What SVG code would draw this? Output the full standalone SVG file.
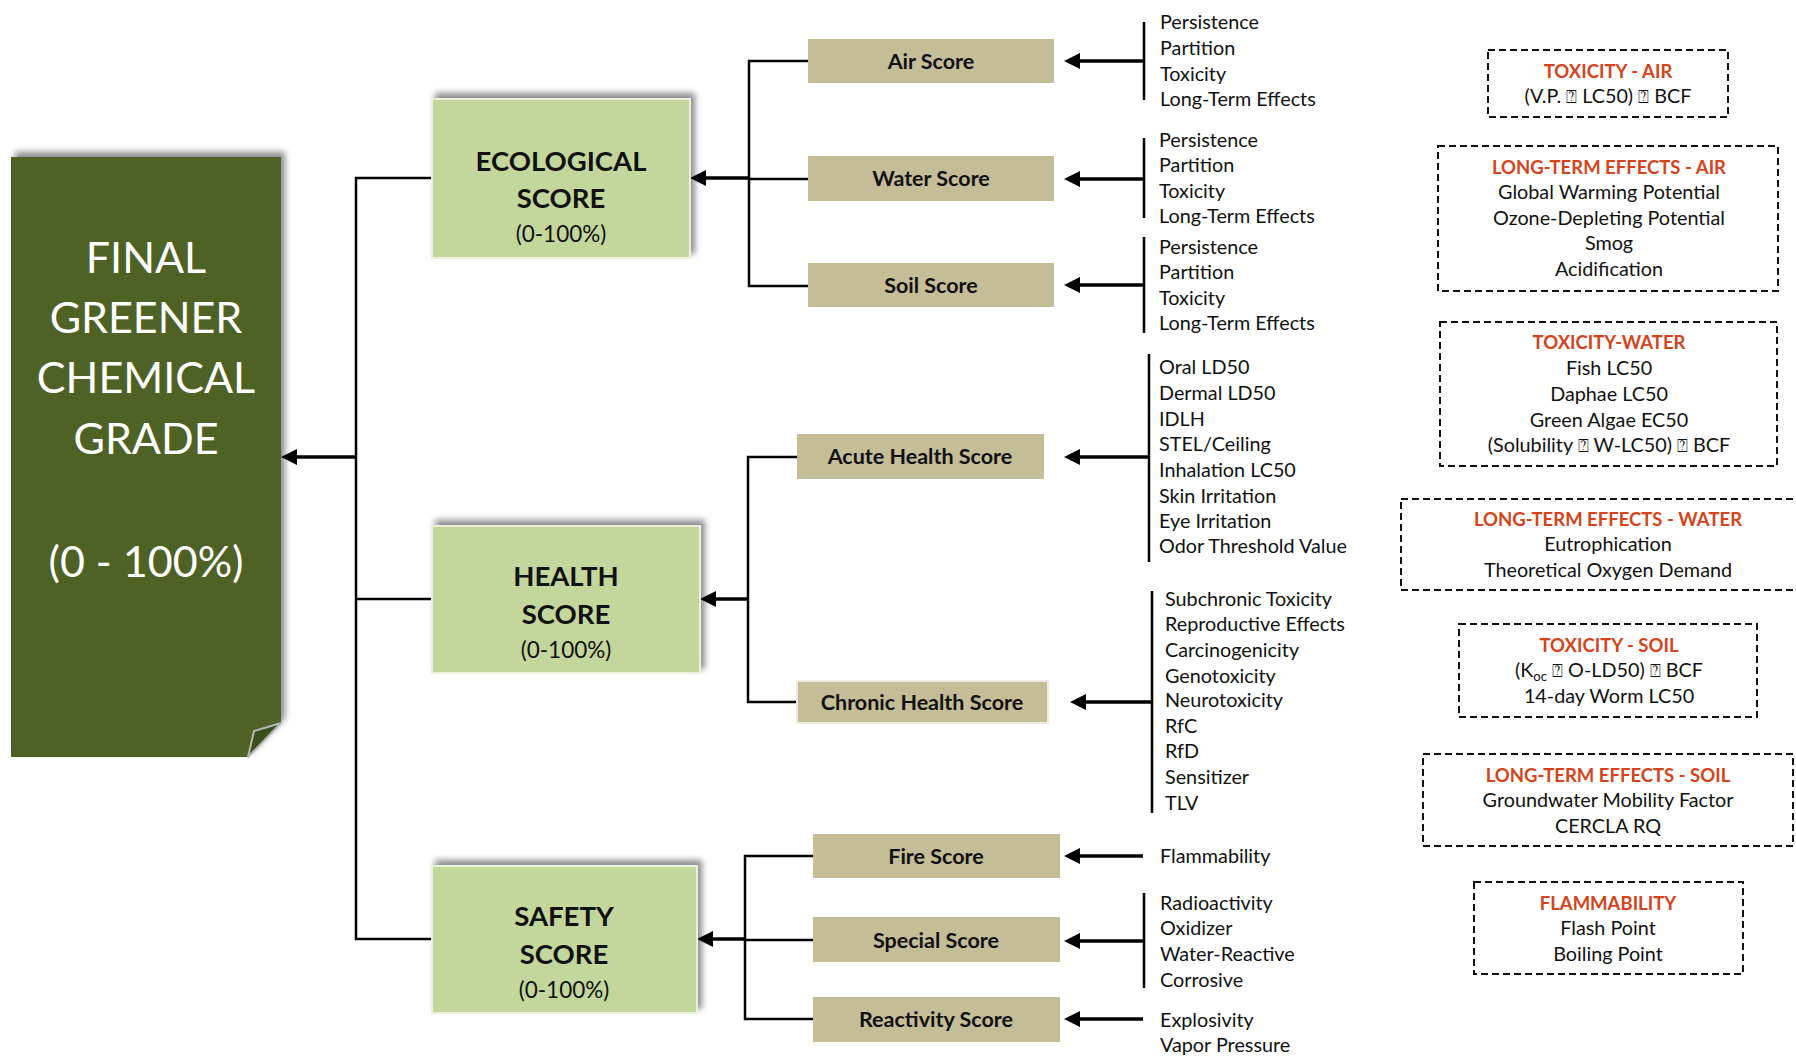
<svg xmlns="http://www.w3.org/2000/svg" width="1796" height="1056" viewBox="0 0 1796 1056">
<defs>
<style>
text{font-family:Lato,"Open Sans","Liberation Sans",sans-serif;fill:#111}
.fin{font-size:43px;fill:#fff;text-anchor:middle}
.mt{font-size:27.5px;font-weight:bold;text-anchor:middle}
.mp{font-size:22.5px;text-anchor:middle}
.sl{font-size:21.5px;font-weight:bold;text-anchor:middle}
.at{font-size:19.8px}
.bt{font-size:18.5px;font-weight:bold;fill:#D5431A;text-anchor:middle}
.bl{font-size:19.8px;text-anchor:middle}
.q{font-family:"DejaVu Sans",sans-serif;font-size:18px}
.main{fill:#C3D69B;stroke:#EEF0DE;stroke-width:2}
.sub{fill:#C4BD97}
.dash{fill:none;stroke:#111;stroke-width:2;stroke-dasharray:7 4}
.ln{fill:none;stroke:#000;stroke-width:2.5}
.ar{fill:none;stroke:#000;stroke-width:3.5;marker-end:url(#ah)}
</style>
<marker id="ah" viewBox="0 0 16 16" refX="6" refY="8" markerWidth="16" markerHeight="16" markerUnits="userSpaceOnUse" orient="auto">
<path d="M0,0 L16,8 L0,16 z" fill="#000"/>
</marker>
<filter id="sh" x="-10%" y="-15%" width="125%" height="125%">
<feDropShadow dx="4" dy="-5" stdDeviation="3" flood-color="#000" flood-opacity="0.45"/>
</filter>
</defs>

<g id="connectors">
<path class="ln" d="M432,178 H356 V939 H432 M356,599 H432"/>
<path class="ar" d="M356,457 H291"/>
<path class="ln" d="M808,61 H749 V286 H808 M749,179 H808"/>
<path class="ar" d="M749,178 H700"/>
<path class="ln" d="M797,457 H748 V702 H797"/>
<path class="ar" d="M748,599 H710"/>
<path class="ln" d="M813,856 H745 V1019 H813 M745,940 H813"/>
<path class="ar" d="M745,939 H707"/>
<path class="ar" d="M1143,61 H1074"/>
<path class="ar" d="M1143,179 H1074"/>
<path class="ar" d="M1143,285 H1074"/>
<path class="ar" d="M1148,457 H1074"/>
<path class="ar" d="M1151,702 H1080"/>
<path class="ar" d="M1143,856 H1074"/>
<path class="ar" d="M1143,941 H1074"/>
<path class="ar" d="M1143,1019 H1074"/>
<path class="ln" d="M1144,22 V100 M1144,138 V218 M1144,237 V333 M1149,354 V562 M1152,591 V813 M1144,893 V988"/>
</g>

<g id="final">
<path d="M11,157 H281 V723 L248,757 H11 Z" fill="#4F6228" filter="url(#sh)"/>
<path d="M281,723 L254,731 L248,757 Z" fill="#3E4F1E" stroke="#B5B5B5" stroke-width="2" stroke-linejoin="round"/>
<text class="fin" x="146" y="273">FINAL</text>
<text class="fin" x="146" y="333">GREENER</text>
<text class="fin" x="146" y="393">CHEMICAL</text>
<text class="fin" x="146" y="454">GRADE</text>
<text class="fin" x="146" y="577">(0 - 100%)</text>
</g>

<g id="ecological">
<rect class="main" x="432" y="99" width="258" height="159" filter="url(#sh)"/>
<text class="mt" x="561" y="171">ECOLOGICAL</text>
<text class="mt" x="561" y="208">SCORE</text>
<text class="mp" x="561" y="242">(0-100%)</text>
</g>

<g id="health">
<rect class="main" x="432" y="526" width="268" height="147" filter="url(#sh)"/>
<text class="mt" x="566" y="586">HEALTH</text>
<text class="mt" x="566" y="624">SCORE</text>
<text class="mp" x="566" y="658">(0-100%)</text>
</g>

<g id="safety">
<rect class="main" x="432" y="866" width="265" height="147" filter="url(#sh)"/>
<text class="mt" x="564" y="926">SAFETY</text>
<text class="mt" x="564" y="964">SCORE</text>
<text class="mp" x="564" y="998">(0-100%)</text>
</g>

<g id="air">
<rect class="sub" x="808" y="39" width="246" height="44"/>
<text class="sl" x="931" y="69">Air Score</text>
</g>
<g id="water">
<rect class="sub" x="808" y="156" width="246" height="45"/>
<text class="sl" x="931" y="186">Water Score</text>
</g>
<g id="soil">
<rect class="sub" x="808" y="263" width="246" height="44"/>
<text class="sl" x="931" y="293">Soil Score</text>
</g>
<g id="acute">
<rect class="sub" x="797" y="434" width="247" height="45"/>
<text class="sl" x="920" y="464">Acute Health Score</text>
</g>
<g id="chronic">
<rect class="sub" x="797" y="681" width="251" height="42" stroke="#EEECE1" stroke-width="2"/>
<text class="sl" x="922" y="710">Chronic Health Score</text>
</g>
<g id="fire">
<rect class="sub" x="813" y="834" width="247" height="44"/>
<text class="sl" x="936" y="864">Fire Score</text>
</g>
<g id="special">
<rect class="sub" x="813" y="917" width="247" height="45"/>
<text class="sl" x="936" y="948">Special Score</text>
</g>
<g id="reactivity">
<rect class="sub" x="813" y="997" width="247" height="45"/>
<text class="sl" x="936" y="1027">Reactivity Score</text>
</g>

<g id="air-list">
<text class="at" x="1160" y="29">Persistence</text>
<text class="at" x="1160" y="55">Partition</text>
<text class="at" x="1160" y="81">Toxicity</text>
<text class="at" x="1160" y="106">Long-Term Effects</text>
</g>
<g id="water-list">
<text class="at" x="1159" y="147">Persistence</text>
<text class="at" x="1159" y="172">Partition</text>
<text class="at" x="1159" y="198">Toxicity</text>
<text class="at" x="1159" y="223">Long-Term Effects</text>
</g>
<g id="soil-list">
<text class="at" x="1159" y="254">Persistence</text>
<text class="at" x="1159" y="279">Partition</text>
<text class="at" x="1159" y="305">Toxicity</text>
<text class="at" x="1159" y="330">Long-Term Effects</text>
</g>
<g id="acute-list">
<text class="at" x="1159" y="374">Oral LD50</text>
<text class="at" x="1159" y="400">Dermal LD50</text>
<text class="at" x="1159" y="426">IDLH</text>
<text class="at" x="1159" y="451">STEL/Ceiling</text>
<text class="at" x="1159" y="477">Inhalation LC50</text>
<text class="at" x="1159" y="503">Skin Irritation</text>
<text class="at" x="1159" y="528">Eye Irritation</text>
<text class="at" x="1159" y="553">Odor Threshold Value</text>
</g>
<g id="chronic-list">
<text class="at" x="1165" y="606">Subchronic Toxicity</text>
<text class="at" x="1165" y="631">Reproductive Effects</text>
<text class="at" x="1165" y="657">Carcinogenicity</text>
<text class="at" x="1165" y="683">Genotoxicity</text>
<text class="at" x="1165" y="707">Neurotoxicity</text>
<text class="at" x="1165" y="733">RfC</text>
<text class="at" x="1165" y="758">RfD</text>
<text class="at" x="1165" y="784">Sensitizer</text>
<text class="at" x="1165" y="810">TLV</text>
</g>
<g id="fire-list">
<text class="at" x="1160" y="863">Flammability</text>
</g>
<g id="special-list">
<text class="at" x="1160" y="910">Radioactivity</text>
<text class="at" x="1160" y="935">Oxidizer</text>
<text class="at" x="1160" y="961">Water-Reactive</text>
<text class="at" x="1160" y="987">Corrosive</text>
</g>
<g id="reactivity-list">
<text class="at" x="1160" y="1027">Explosivity</text>
<text class="at" x="1160" y="1052">Vapor Pressure</text>
</g>

<g id="toxicity-air">
<rect class="dash" x="1488" y="50" width="240" height="67"/>
<text class="bt" x="1608" y="78">TOXICITY - AIR</text>
<text class="bl" x="1608" y="103">(V.P. <tspan class="q">⍰</tspan> LC50) <tspan class="q">⍰</tspan> BCF</text>
</g>
<g id="lte-air">
<rect class="dash" x="1438" y="146" width="340" height="145"/>
<text class="bt" x="1609" y="174">LONG-TERM EFFECTS - AIR</text>
<text class="bl" x="1609" y="199">Global Warming Potential</text>
<text class="bl" x="1609" y="225">Ozone-Depleting Potential</text>
<text class="bl" x="1609" y="250">Smog</text>
<text class="bl" x="1609" y="276">Acidification</text>
</g>
<g id="toxicity-water">
<rect class="dash" x="1440" y="322" width="337" height="144"/>
<text class="bt" x="1609" y="349">TOXICITY-WATER</text>
<text class="bl" x="1609" y="375">Fish LC50</text>
<text class="bl" x="1609" y="401">Daphae LC50</text>
<text class="bl" x="1609" y="427">Green Algae EC50</text>
<text class="bl" x="1609" y="452">(Solubility <tspan class="q">⍰</tspan> W-LC50) <tspan class="q">⍰</tspan> BCF</text>
</g>
<g id="lte-water">
<rect class="dash" x="1401" y="499" width="420" height="91"/>
<text class="bt" x="1608" y="526">LONG-TERM EFFECTS - WATER</text>
<text class="bl" x="1608" y="551">Eutrophication</text>
<text class="bl" x="1608" y="577">Theoretical Oxygen Demand</text>
</g>
<g id="toxicity-soil">
<rect class="dash" x="1459" y="624" width="298" height="93"/>
<text class="bt" x="1609" y="652">TOXICITY - SOIL</text>
<text class="bl" x="1609" y="677">(K<tspan font-size="13" dy="4">oc</tspan><tspan dy="-4"> </tspan><tspan class="q">⍰</tspan> O-LD50) <tspan class="q">⍰</tspan> BCF</text>
<text class="bl" x="1609" y="703">14-day Worm LC50</text>
</g>
<g id="lte-soil">
<rect class="dash" x="1423" y="754" width="370" height="92"/>
<text class="bt" x="1608" y="782">LONG-TERM EFFECTS - SOIL</text>
<text class="bl" x="1608" y="807">Groundwater Mobility Factor</text>
<text class="bl" x="1608" y="833">CERCLA RQ</text>
</g>
<g id="flammability">
<rect class="dash" x="1474" y="882" width="269" height="92"/>
<text class="bt" x="1608" y="910">FLAMMABILITY</text>
<text class="bl" x="1608" y="935">Flash Point</text>
<text class="bl" x="1608" y="961">Boiling Point</text>
</g>
</svg>
